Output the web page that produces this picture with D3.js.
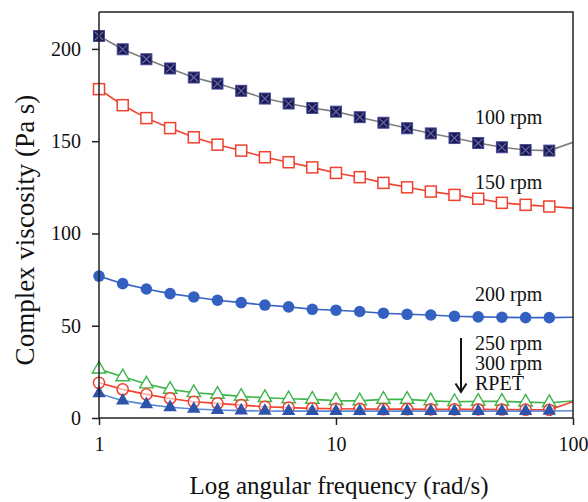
<!DOCTYPE html>
<html><head><meta charset="utf-8">
<script src="https://cdn.jsdelivr.net/npm/d3@7"></script>
<style>
html,body{margin:0;padding:0;background:#fff;}
svg text{font-family:"Liberation Serif","Times New Roman",serif;fill:#111;}
</style></head>
<body><svg id="c" width="588" height="502"></svg>
<script>
// angular frequency (rad/s)
const freq = [1, 1.259, 1.585, 1.995, 2.512, 3.162, 3.981, 5.012, 6.310, 7.943, 10, 12.59, 15.85, 19.95, 25.12, 31.62, 39.81, 50.12, 63.10, 79.43, 100];
const rpm100 = [207, 199.8, 194.4, 189.4, 184.5, 181.2, 177.3, 173.1, 170.4, 168, 166, 163, 160, 157, 154.2, 151.7, 149, 146.7, 145.2, 144.9, 149.4];
const rpm150 = [178.2, 169.5, 162.5, 157.1, 152.1, 148.1, 144.9, 141.3, 138.6, 135.8, 132.8, 130.5, 127.4, 125, 122.7, 120.9, 118.8, 116.6, 115.5, 114.6, 113.7];
const rpm200 = [76.9, 72.8, 69.9, 67.4, 65.6, 63.8, 62.5, 61.2, 60.2, 58.9, 58.4, 57.7, 56.8, 56.2, 55.8, 55.1, 54.8, 54.6, 54.4, 54.4, 54.6];
const rpm250 = [26.5, 22.3, 18.4, 15.5, 13.7, 12.8, 11.7, 11.0, 10.4, 10.1, 9.4, 9.3, 10.1, 10.1, 9.3, 8.8, 9.0, 9.0, 8.6, 8.3, 9.2];
const rpm300 = [19.1, 15.5, 12.8, 10.6, 8.8, 7.9, 7.0, 6.1, 5.6, 5.2, 5.0, 4.9, 4.8, 4.8, 4.7, 4.7, 4.7, 4.6, 4.5, 4.4, 8.8];
const rpet = [13.3, 9.4, 7.4, 5.8, 4.9, 4.3, 4.0, 3.8, 3.7, 3.7, 3.7, 3.7, 3.7, 3.7, 3.7, 3.7, 3.7, 3.7, 3.7, 3.8, 3.9];
const xTicks = [1, 10, 100];
const yTicks = [0, 50, 100, 150, 200];
const seriesLabels = ["100 rpm", "150 rpm", "200 rpm"];
const lowLabels = ["250 rpm", "300 rpm", "RPET"];
const xTitle = "Log angular frequency (rad/s)";
const yTitle = "Complex viscosity (Pa s)";

const L = 99, R = 573, T = 12, B = 418;
const svg = d3.select("#c");
const x = d3.scaleLog().domain([1, 100]).range([L, R]);
const y = d3.scaleLinear().domain([0, 220]).range([B, T]);

svg.append("defs").append("clipPath").attr("id", "pc")
  .append("rect").attr("x", L).attr("y", T).attr("width", R - L).attr("height", B - T);

const series = [
  {v: rpm100, line: "#7f7f7f", m: "xsq"},
  {v: rpm150, line: "#f0402e", m: "osq"},
  {v: rpm200, line: "#3563c2", m: "dot"},
  {v: rpm250, line: "#3db54a", m: "otri"},
  {v: rpm300, line: "#f0402e", m: "ocirc"},
  {v: rpet, line: "#5a8ad8", m: "tri"}
];

const g = svg.append("g");
const lineGen = d3.line().x((d, i) => x(freq[i])).y(d => y(d));
const tri = d3.symbol().type(d3.symbolTriangle).size(78);

series.forEach(s => {
  const sg = g.append("g");
  sg.append("path").attr("d", lineGen(s.v)).attr("fill", "none")
    .attr("stroke", s.line).attr("stroke-width", 1.6).attr("clip-path", "url(#pc)");
  const pts = s.v.slice(0, 20).map((d, i) => [x(freq[i]), y(d)]);
  pts.forEach(([px, py]) => {
    if (s.m === "xsq") {
      sg.append("rect").attr("x", px - 5.5).attr("y", py - 5.5).attr("width", 11).attr("height", 11)
        .attr("fill", "#1c1c4c").attr("stroke", "#4b4b9e").attr("stroke-width", 1);
      sg.append("path").attr("d", `M${px-4},${py-4}L${px+4},${py+4}M${px+4},${py-4}L${px-4},${py+4}`)
        .attr("stroke", "#6a6ac0").attr("stroke-width", 1.1);
    } else if (s.m === "osq") {
      sg.append("rect").attr("x", px - 5.5).attr("y", py - 5.5).attr("width", 11).attr("height", 11)
        .attr("fill", "#fff").attr("stroke", "#f0402e").attr("stroke-width", 1.5);
    } else if (s.m === "dot") {
      sg.append("circle").attr("cx", px).attr("cy", py).attr("r", 5.8).attr("fill", "#3461c1");
    } else if (s.m === "otri") {
      sg.append("path").attr("d", tri()).attr("transform", `translate(${px},${py})`)
        .attr("fill", "#fff").attr("stroke", "#3db54a").attr("stroke-width", 1.4);
    } else if (s.m === "ocirc") {
      sg.append("circle").attr("cx", px).attr("cy", py).attr("r", 5.6)
        .attr("fill", "#fff").attr("fill-opacity", 0.6).attr("stroke", "#f0402e").attr("stroke-width", 1.5);
    } else if (s.m === "tri") {
      sg.append("path").attr("d", tri()).attr("transform", `translate(${px},${py})`)
        .attr("fill", "#2d53aa");
    }
  });
});

// frame
svg.append("path").attr("d", `M${L},${T}H${R}V${B}`).attr("fill", "none").attr("stroke", "#222").attr("stroke-width", 1.5);

// axes
const xa = svg.append("g").attr("transform", `translate(0,${B})`)
  .call(d3.axisBottom(x).tickValues(xTicks).tickFormat(d3.format("d")).tickSize(7).tickPadding(12).tickSizeOuter(0));
const ya = svg.append("g").attr("transform", `translate(${L},0)`)
  .call(d3.axisLeft(y).tickValues(yTicks).tickSize(7).tickPadding(11).tickSizeOuter(0));
[xa, ya].forEach(a => {
  a.select(".domain").attr("stroke", "#222").attr("stroke-width", 1.5);
  a.selectAll(".tick line").attr("stroke", "#222").attr("stroke-width", 1.5);
  a.selectAll(".tick text").attr("font-size", 20).attr("fill", "#111")
    .style("font-family", '"Liberation Serif","Times New Roman",serif');
});
ya.select(".domain").attr("d", `M0,${T}V${B}`);
xa.select(".domain").attr("d", `M${L},0H${R}`);

// titles
svg.append("text").attr("x", (L + R) / 2 + 3).attr("y", 494).attr("text-anchor", "middle")
  .attr("font-size", 25).text(xTitle);
svg.append("text").attr("transform", "translate(34,230) rotate(-90)").attr("text-anchor", "middle")
  .attr("font-size", 27).text(yTitle);

// series labels
const lblY = [124, 189, 301];
seriesLabels.forEach((t, i) => svg.append("text").attr("x", 475).attr("y", lblY[i]).attr("font-size", 20).text(t));
const lowY = [350, 370, 390];
lowLabels.forEach((t, i) => svg.append("text").attr("x", 475).attr("y", lowY[i]).attr("font-size", 20).text(t));

// arrow
svg.append("path").attr("d", "M461,338V391").attr("stroke", "#111").attr("stroke-width", 2);
svg.append("path").attr("d", "M455.5,383.5L461,392L466.5,383.5").attr("fill", "none").attr("stroke", "#111").attr("stroke-width", 2);
</script></body></html>
